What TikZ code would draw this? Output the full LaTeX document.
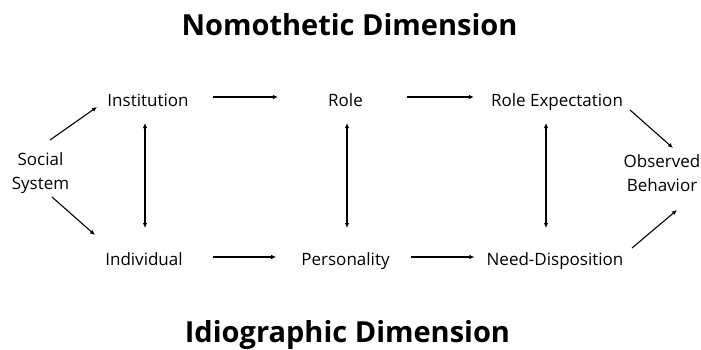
\documentclass[tikz,border=0pt]{standalone}
\usepackage{fontspec}
\setmainfont{Open Sans}
\usetikzlibrary{arrows.meta, positioning, calc}

\begin{document}
\begin{tikzpicture}[
  x=1pt, y=1pt,
  lbl/.style={font=\fontsize{17}{24}\selectfont, inner sep=0pt, align=center},
  word/.style={lbl, anchor=base},
  ttl/.style={font=\fontsize{29}{32}\selectfont\bfseries, inner sep=0pt, anchor=base},
  arr/.style={-{Latex[length=5pt,width=4.5pt]}, line width=1.1pt},
  dbl/.style={{Latex[length=5pt,width=4.5pt]}-{Latex[length=5pt,width=4.5pt]}, line width=1.1pt}
]
  \useasboundingbox (0,0) rectangle (701,-349);
  % titles
  \node[ttl] (nomo) at (349.5,-35) {Nomothetic Dimension};
  \node[ttl] (idio) at (347.5,-342) {Idiographic Dimension};
  % concepts
  \node[lbl] (social) at (40.5,-173) {Social\\System};
  \node[word] (inst) at (148,-106) {Institution};
  \node[word] (role) at (345.5,-106) {Role};
  \node[word] (roleexp) at (557,-106) {Role Expectation};
  \node[word] (indiv) at (144,-265) {Individual};
  \node[word] (pers) at (345.5,-265) {Personality};
  \node[word] (needdisp) at (555,-265) {Need-Disposition};
  \node[lbl] (behav) at (662,-173) {Observed\\Behavior};
  % horizontal flows
  \draw[arr, shorten <=24pt, shorten >=50pt] ([yshift=9pt]inst.base east) -- ([yshift=9pt]role.base west);
  \draw[arr, shorten <=44pt, shorten >=17pt] ([yshift=9pt]role.base east) -- ([yshift=9pt]roleexp.base west);
  \draw[arr, shorten <=30pt, shorten >=25pt] ([yshift=8pt]indiv.base east) -- ([yshift=8pt]pers.base west);
  \draw[arr, shorten <=21pt, shorten >=12pt] ([yshift=8pt]pers.base east) -- ([yshift=8pt]needdisp.base west);
  % vertical links
  \draw[dbl] ([shift={(-3pt,-17pt)}]inst.base) -- ([shift={(-3pt,37pt)}]inst.base |- indiv.base);
  \draw[dbl] ([shift={(1.5pt,-17pt)}]role.base) -- ([shift={(1.5pt,37pt)}]role.base |- pers.base);
  \draw[dbl] ([shift={(-11pt,-17pt)}]roleexp.base) -- ([shift={(-11pt,37pt)}]roleexp.base |- needdisp.base);
  % diagonals
  \draw[arr] ([shift={(9.5pt,33pt)}]social.center) -- ([shift={(-51pt,-1pt)}]inst.base);
  \draw[arr] ([shift={(11.5pt,-24pt)}]social.center) -- ([shift={(-49pt,30pt)}]indiv.base);
  \draw[arr] ([shift={(73pt,-4pt)}]roleexp.base) -- ([shift={(11pt,25pt)}]behav.center);
  \draw[arr] ([shift={(77pt,17pt)}]needdisp.base) -- ([shift={(15pt,-37pt)}]behav.center);
\end{tikzpicture}
\end{document}
